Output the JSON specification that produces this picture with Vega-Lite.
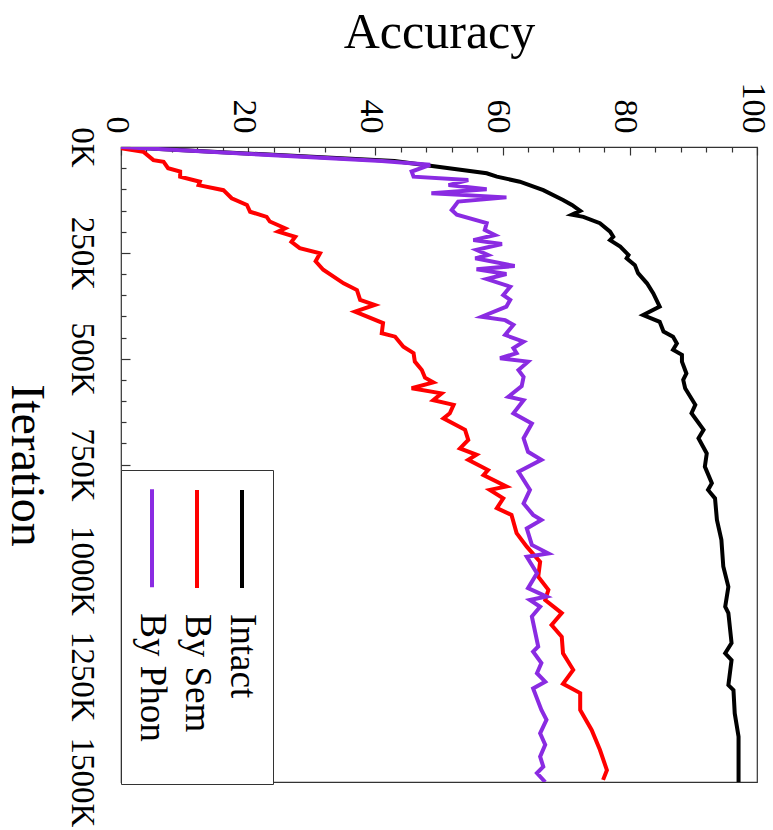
{
  "$schema": "https://vega.github.io/schema/vega-lite/v6.json",
  "width": 636,
  "height": 635,
  "autosize": {"type": "none"},
  "padding": {"left": 121, "top": 147, "right": 16, "bottom": 48},
  "background": "white",
  "config": {
    "view": {"stroke": "#333", "strokeWidth": 1.2},
    "font": "Liberation Serif",
    "axis": {"grid": false, "domain": false, "tickColor": "#333", "tickWidth": 1.2, "labelFont": "Liberation Serif", "titleFont": "Liberation Serif", "labelColor": "black", "titleColor": "black", "titleFontWeight": "normal", "labelOverlap": false, "labelBound": false, "labelFlush": false}
  },
  "data": {"values": [
    {"s":"Intact","it":0,"acc":0},{"s":"Intact","it":33,"acc":43},{"s":"Intact","it":62,"acc":57.5},{"s":"Intact","it":70,"acc":59.1},{"s":"Intact","it":82,"acc":62.7},{"s":"Intact","it":102,"acc":66.4},{"s":"Intact","it":125,"acc":69.5},{"s":"Intact","it":137,"acc":70.9},{"s":"Intact","it":151,"acc":72.2},{"s":"Intact","it":160,"acc":70.9},{"s":"Intact","it":165,"acc":72.7},{"s":"Intact","it":180,"acc":75.3},{"s":"Intact","it":200,"acc":76.9},{"s":"Intact","it":212,"acc":77.4},{"s":"Intact","it":220,"acc":76.9},{"s":"Intact","it":235,"acc":78.5},{"s":"Intact","it":255,"acc":79.8},{"s":"Intact","it":263,"acc":79.5},{"s":"Intact","it":279,"acc":80.8},{"s":"Intact","it":298,"acc":81.3},{"s":"Intact","it":322,"acc":82.7},{"s":"Intact","it":346,"acc":83.7},{"s":"Intact","it":377,"acc":84.7},{"s":"Intact","it":397,"acc":82.1},{"s":"Intact","it":413,"acc":84.7},{"s":"Intact","it":436,"acc":85.3},{"s":"Intact","it":448,"acc":86.8},{"s":"Intact","it":464,"acc":87.4},{"s":"Intact","it":479,"acc":86.8},{"s":"Intact","it":491,"acc":88.2},{"s":"Intact","it":507,"acc":88.2},{"s":"Intact","it":535,"acc":88.9},{"s":"Intact","it":550,"acc":88.4},{"s":"Intact","it":570,"acc":88.7},{"s":"Intact","it":609,"acc":90.3},{"s":"Intact","it":629,"acc":89.7},{"s":"Intact","it":668,"acc":91.6},{"s":"Intact","it":688,"acc":90.8},{"s":"Intact","it":724,"acc":92.1},{"s":"Intact","it":755,"acc":91.8},{"s":"Intact","it":794,"acc":92.9},{"s":"Intact","it":810,"acc":92.3},{"s":"Intact","it":830,"acc":93.4},{"s":"Intact","it":881,"acc":93.7},{"s":"Intact","it":928,"acc":94.4},{"s":"Intact","it":991,"acc":94.7},{"s":"Intact","it":1039,"acc":95.5},{"s":"Intact","it":1086,"acc":95.0},{"s":"Intact","it":1101,"acc":95.5},{"s":"Intact","it":1172,"acc":96.0},{"s":"Intact","it":1196,"acc":95.0},{"s":"Intact","it":1212,"acc":96.0},{"s":"Intact","it":1271,"acc":95.5},{"s":"Intact","it":1283,"acc":96.3},{"s":"Intact","it":1338,"acc":96.5},{"s":"Intact","it":1393,"acc":97.1},{"s":"Intact","it":1440,"acc":97.1},{"s":"Intact","it":1500,"acc":97.1},
    {"s":"By Sem","it":0,"acc":0},{"s":"By Sem","it":3,"acc":0.1},{"s":"By Sem","it":11,"acc":3.5},{"s":"By Sem","it":31,"acc":5.1},{"s":"By Sem","it":35,"acc":6.7},{"s":"By Sem","it":50,"acc":7.4},{"s":"By Sem","it":58,"acc":9.3},{"s":"By Sem","it":70,"acc":9.3},{"s":"By Sem","it":82,"acc":12.4},{"s":"By Sem","it":90,"acc":12.2},{"s":"By Sem","it":102,"acc":16.1},{"s":"By Sem","it":121,"acc":17.4},{"s":"By Sem","it":137,"acc":19.8},{"s":"By Sem","it":153,"acc":20.3},{"s":"By Sem","it":165,"acc":22.9},{"s":"By Sem","it":176,"acc":23.4},{"s":"By Sem","it":192,"acc":25.8},{"s":"By Sem","it":200,"acc":24.7},{"s":"By Sem","it":212,"acc":27.4},{"s":"By Sem","it":224,"acc":26.8},{"s":"By Sem","it":239,"acc":28.1},{"s":"By Sem","it":251,"acc":31.3},{"s":"By Sem","it":270,"acc":30.6},{"s":"By Sem","it":290,"acc":31.8},{"s":"By Sem","it":322,"acc":35.0},{"s":"By Sem","it":338,"acc":37.1},{"s":"By Sem","it":361,"acc":37.6},{"s":"By Sem","it":373,"acc":39.9},{"s":"By Sem","it":389,"acc":36.8},{"s":"By Sem","it":416,"acc":41.2},{"s":"By Sem","it":440,"acc":41.0},{"s":"By Sem","it":448,"acc":43.1},{"s":"By Sem","it":472,"acc":44.4},{"s":"By Sem","it":487,"acc":46.0},{"s":"By Sem","it":507,"acc":46.2},{"s":"By Sem","it":527,"acc":47.3},{"s":"By Sem","it":545,"acc":47.8},{"s":"By Sem","it":556,"acc":49.1},{"s":"By Sem","it":570,"acc":45.7},{"s":"By Sem","it":582,"acc":50.4},{"s":"By Sem","it":598,"acc":49.1},{"s":"By Sem","it":609,"acc":52.3},{"s":"By Sem","it":629,"acc":51.7},{"s":"By Sem","it":641,"acc":50.7},{"s":"By Sem","it":668,"acc":54.1},{"s":"By Sem","it":692,"acc":54.6},{"s":"By Sem","it":712,"acc":53.3},{"s":"By Sem","it":727,"acc":55.9},{"s":"By Sem","it":739,"acc":54.6},{"s":"By Sem","it":763,"acc":57.7},{"s":"By Sem","it":775,"acc":57.0},{"s":"By Sem","it":802,"acc":60.6},{"s":"By Sem","it":810,"acc":58.0},{"s":"By Sem","it":830,"acc":60.1},{"s":"By Sem","it":853,"acc":59.1},{"s":"By Sem","it":869,"acc":61.4},{"s":"By Sem","it":912,"acc":62.2},{"s":"By Sem","it":944,"acc":63.8},{"s":"By Sem","it":980,"acc":65.9},{"s":"By Sem","it":1015,"acc":65.6},{"s":"By Sem","it":1046,"acc":67.2},{"s":"By Sem","it":1070,"acc":66.7},{"s":"By Sem","it":1101,"acc":69.3},{"s":"By Sem","it":1129,"acc":67.7},{"s":"By Sem","it":1157,"acc":69.3},{"s":"By Sem","it":1196,"acc":69.5},{"s":"By Sem","it":1235,"acc":71.1},{"s":"By Sem","it":1268,"acc":69.5},{"s":"By Sem","it":1290,"acc":72.2},{"s":"By Sem","it":1330,"acc":72.2},{"s":"By Sem","it":1377,"acc":74.0},{"s":"By Sem","it":1424,"acc":75.3},{"s":"By Sem","it":1472,"acc":76.4},{"s":"By Sem","it":1495,"acc":75.8},
    {"s":"By Phon","it":0,"acc":0},{"s":"By Phon","it":33,"acc":41},{"s":"By Phon","it":42,"acc":48.6},{"s":"By Phon","it":58,"acc":45.7},{"s":"By Phon","it":70,"acc":46.0},{"s":"By Phon","it":78,"acc":54.6},{"s":"By Phon","it":90,"acc":51.5},{"s":"By Phon","it":100,"acc":57.5},{"s":"By Phon","it":109,"acc":48.8},{"s":"By Phon","it":119,"acc":60.6},{"s":"By Phon","it":129,"acc":53.0},{"s":"By Phon","it":149,"acc":52.0},{"s":"By Phon","it":160,"acc":52.8},{"s":"By Phon","it":180,"acc":57.5},{"s":"By Phon","it":196,"acc":57.2},{"s":"By Phon","it":208,"acc":58.8},{"s":"By Phon","it":220,"acc":55.4},{"s":"By Phon","it":229,"acc":59.9},{"s":"By Phon","it":243,"acc":55.9},{"s":"By Phon","it":255,"acc":57.7},{"s":"By Phon","it":263,"acc":55.7},{"s":"By Phon","it":281,"acc":61.9},{"s":"By Phon","it":289,"acc":55.9},{"s":"By Phon","it":300,"acc":60.6},{"s":"By Phon","it":312,"acc":57.5},{"s":"By Phon","it":330,"acc":61.2},{"s":"By Phon","it":350,"acc":60.1},{"s":"By Phon","it":361,"acc":61.2},{"s":"By Phon","it":377,"acc":60.6},{"s":"By Phon","it":401,"acc":56.7},{"s":"By Phon","it":409,"acc":60.4},{"s":"By Phon","it":420,"acc":61.7},{"s":"By Phon","it":444,"acc":60.4},{"s":"By Phon","it":460,"acc":63.3},{"s":"By Phon","it":475,"acc":61.7},{"s":"By Phon","it":487,"acc":62.2},{"s":"By Phon","it":499,"acc":59.6},{"s":"By Phon","it":507,"acc":64.0},{"s":"By Phon","it":527,"acc":62.5},{"s":"By Phon","it":543,"acc":63.3},{"s":"By Phon","it":565,"acc":63.0},{"s":"By Phon","it":590,"acc":60.9},{"s":"By Phon","it":598,"acc":63.3},{"s":"By Phon","it":629,"acc":61.7},{"s":"By Phon","it":653,"acc":64.6},{"s":"By Phon","it":688,"acc":63.3},{"s":"By Phon","it":720,"acc":64.0},{"s":"By Phon","it":739,"acc":66.1},{"s":"By Phon","it":767,"acc":62.5},{"s":"By Phon","it":810,"acc":64.3},{"s":"By Phon","it":842,"acc":63.3},{"s":"By Phon","it":869,"acc":64.8},{"s":"By Phon","it":881,"acc":66.1},{"s":"By Phon","it":901,"acc":63.8},{"s":"By Phon","it":940,"acc":64.6},{"s":"By Phon","it":960,"acc":67.2},{"s":"By Phon","it":968,"acc":63.8},{"s":"By Phon","it":1007,"acc":65.4},{"s":"By Phon","it":1042,"acc":64.0},{"s":"By Phon","it":1062,"acc":66.9},{"s":"By Phon","it":1070,"acc":64.3},{"s":"By Phon","it":1086,"acc":65.9},{"s":"By Phon","it":1109,"acc":64.6},{"s":"By Phon","it":1180,"acc":65.6},{"s":"By Phon","it":1192,"acc":64.8},{"s":"By Phon","it":1219,"acc":66.1},{"s":"By Phon","it":1243,"acc":65.4},{"s":"By Phon","it":1263,"acc":66.7},{"s":"By Phon","it":1279,"acc":64.8},{"s":"By Phon","it":1330,"acc":66.1},{"s":"By Phon","it":1353,"acc":66.9},{"s":"By Phon","it":1385,"acc":65.9},{"s":"By Phon","it":1412,"acc":66.7},{"s":"By Phon","it":1440,"acc":65.9},{"s":"By Phon","it":1464,"acc":66.4},{"s":"By Phon","it":1479,"acc":65.4},{"s":"By Phon","it":1500,"acc":66.7}
  ]},
  "mark": {"type": "line", "strokeWidth": 4, "strokeJoin": "miter", "clip": true},
  "encoding": {
    "x": {
      "field": "acc", "type": "quantitative",
      "scale": {"domain": [0, 100], "nice": false, "zero": false},
      "axis": {
        "orient": "top", "title": "Accuracy", "titleFontSize": 50, "titleAngle": 0, "titleBaseline": "alphabetic", "titleY": -100,
        "values": [0,4,8,12,16,20,24,28,32,36,40,44,48,52,56,60,64,68,72,76,80,84,88,92,96,100],
        "labelExpr": "datum.value % 20 === 0 ? datum.value : ''",
        "labelAngle": 90, "labelAlign": "right", "labelBaseline": "middle", "labelFontSize": 34, "labelOffset": -5,
        "tickSize": {"condition": {"test": "datum.value % 20 === 0", "value": -8}, "value": -5},
        "labelPadding": 22
      }
    },
    "y": {
      "field": "it", "type": "quantitative",
      "scale": {"domain": [0, 1500], "nice": false, "zero": false, "reverse": true},
      "axis": {
        "orient": "left", "title": "Iteration", "titleFontSize": 48, "titleAngle": 90, "titleAlign": "center", "titleBaseline": "alphabetic", "titleX": -110, "titleY": 318,
        "values": [0,50,100,150,200,250,300,350,400,450,500,550,600,650,700,750,800,850,900,950,1000,1050,1100,1150,1200,1250,1300,1350,1400,1450,1500],
        "labelExpr": "datum.value % 250 === 0 ? datum.value + 'K' : ''",
        "labelAngle": 90, "labelAlign": "center", "labelBaseline": "top", "labelFontSize": 33,
        "tickSize": {"condition": {"test": "datum.value % 250 === 0", "value": -9}, "value": -5},
        "labelPadding": 33
      }
    },
    "color": {
      "field": "s", "type": "nominal",
      "scale": {"domain": ["By Phon", "By Sem", "Intact"], "range": ["#8a2be2", "#ff0000", "#000000"]},
      "legend": {
        "orient": "none", "legendX": 0, "legendY": 323, "direction": "horizontal", "columns": 3, "columnPadding": 6,
        "padding": 12, "strokeColor": "#333", "fillColor": "white", "clipHeight": 258,
        "symbolType": "M0,-1L0,1", "symbolSize": 9604, "symbolStrokeWidth": 4,
        "labelFont": "Liberation Serif", "labelFontSize": 37, "labelColor": "black", "labelLimit": 0,
        "labelAlign": "left", "labelBaseline": "middle",
        "title": " ", "titleOrient": "bottom", "titleFontSize": 26, "titlePadding": 4,
        "encode": {
          "symbols": {"update": {"x": {"value": 19}, "y": {"value": 56}}},
          "labels": {"update": {"x": {"value": 19}, "y": {"value": 131}, "angle": {"value": 90}, "align": {"value": "left"}, "baseline": {"value": "middle"}}}
        }
      }
    },
    "order": {"field": "it", "type": "quantitative"}
  }
}
